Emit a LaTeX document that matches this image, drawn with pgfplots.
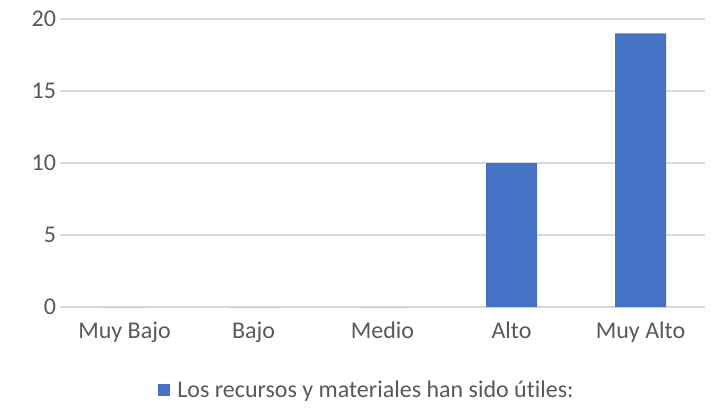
\documentclass[border=0pt]{standalone}
\usepackage{fontspec}
\setmainfont{Carlito}[Ligatures=NoCommon]
\usepackage{pgfplots}
\pgfplotsset{compat=1.18}
\definecolor{barblue}{RGB}{68,114,196}
\definecolor{txtgray}{RGB}{89,89,89}
\definecolor{gridgray}{RGB}{217,217,217}
\begin{document}
\begin{tikzpicture}
\begin{axis}[
  scale only axis,
  width=645pt,
  height=288pt,
  ybar,
  bar width=51pt,
  ymin=0, ymax=20,
  xmin=-0.5, xmax=4.5,
  xtick=data,
  xticklabels={Muy Bajo,Bajo,Medio,Alto,Muy Alto},
  ytick={0,5,10,15,20},
  axis x line*=bottom,
  axis y line*=left,
  y axis line style={draw=none},
  x axis line style={draw=gridgray, line width=1.5pt},
  major tick length=0pt,
  ymajorgrids=true,
  grid style={gridgray, line width=1.5pt},
  tick label style={font=\fontsize{24}{28}\selectfont, text=txtgray},
  /pgf/number format/assume math mode=true,
  yticklabel style={xshift=-0.5pt},
  xticklabel style={yshift=-11pt},
  legend style={
    at={(0.476,-0.288)}, anchor=center, draw=none,
    font=\fontsize{24}{28}\selectfont, text=txtgray,
    legend cell align=left,
  },
  legend image code/.code={\fill[barblue] (0pt,-6pt) rectangle (12pt,6pt);},
]
\addplot[fill=barblue, draw=none] coordinates {(0,0) (1,0) (2,0) (3,10) (4,19)};
\addlegendentry{\hspace{5pt}Los recursos y materiales han sido útiles:}
\end{axis}
\pgfresetboundingbox
\useasboundingbox ([shift={(-60pt,-100pt)}]current axis.south west) rectangle ([shift={(9pt,19pt)}]current axis.north east);
\end{tikzpicture}
\end{document}
